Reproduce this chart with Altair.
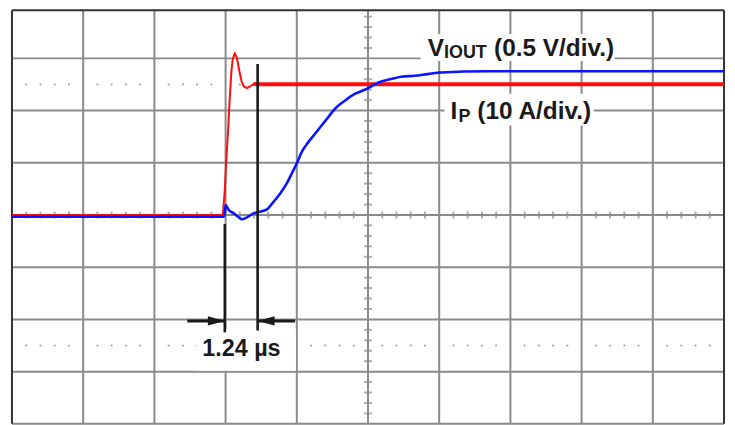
import altair as alt
import pandas as pd

# ---- graticule (divisions) ----
V_GRID = [1, 2, 3, 4, 5, 6, 7, 8, 9]
H_GRID = [-4, -3, -2, -1, 0, 1, 2, 3]
X_BORDER = [0, 10]
Y_TOP = 3.9238
DOT_ROWS = [2.5, -2.5]

# ---- traces (x in time divisions, y in vertical divisions) ----
red_x = [0, 2.961, 2.989, 3.007, 3.035, 3.059, 3.082, 3.101, 3.128, 3.156, 3.174,
         3.198, 3.222, 3.254, 3.300, 3.338, 3.394, 3.464, 10]
red_y = [0, 0, 0.476, 0.990, 1.619, 2.253, 2.762, 2.990, 3.091, 3.029, 2.895,
         2.724, 2.571, 2.467, 2.432, 2.457, 2.509, 2.505, 2.505]

blue_x = [0, 2.975, 2.992, 2.999, 3.045, 3.115, 3.184, 3.230, 3.300, 3.394, 3.464,
          3.580, 3.673, 3.767, 3.859, 3.929, 3.999, 4.068, 4.162, 4.256, 4.348,
          4.441, 4.535, 4.675, 4.814, 4.972, 5.140, 5.325, 5.465, 5.652, 5.838,
          6.024, 6.676, 10]
blue_y = [-0.032, -0.032, 0.05, 0.190, 0.095, 0.032, -0.044, -0.082, -0.044, 0.032, 0.057,
          0.109, 0.253, 0.413, 0.604, 0.794, 0.985, 1.206, 1.396, 1.556, 1.714,
          1.872, 2.032, 2.190, 2.318, 2.410, 2.533, 2.604, 2.648, 2.667, 2.699,
          2.730, 2.752, 2.752]

# ---- annotation: cursors and arrows ----
cursor_x = [2.989, 3.450]
cursor_top = [-0.171, 2.890]
cursor_bottom = [-2.248, -2.210]
arrow_y = -2.029
arrow_from = [2.462, 3.976]
arrow_to = [2.989, 3.450]
arrow_dir = ["right", "left"]

# ---- labels ----
box_x1 = [5.740, 6.075, 2.598]
box_x2 = [8.464, 8.170, 3.987]
box_y1 = [3.467, 2.324, -2.190]
box_y2 = [2.952, 1.714, -2.981]

label_text = ["V", "IOUT", "(0.5 V/div.)", "I", "P", "(10 A/div.)"]
label_x = [5.838, 6.068, 6.770, 6.159, 6.272, 6.536]
label_y = [3.048, 3.000, 3.048, 1.842, 1.777, 1.842]
label_size = [24.5, 18, 24.5, 24.5, 18, 24.5]

meas_text = ["1.24 µs"]
meas_x = [3.222]
meas_y = [-2.710]

GRID = "#8a8a8a"
INK = "#1a1a1a"
FONT = "Liberation Sans"

XS = alt.Scale(domain=[0, 10], nice=False, zero=False)
YS = alt.Scale(domain=[-4, Y_TOP], nice=False, zero=False)


def X(f):
    return alt.X(f, type="quantitative", scale=XS, axis=None)


def Y(f):
    return alt.Y(f, type="quantitative", scale=YS, axis=None)


vgrid = alt.Chart(pd.DataFrame({"x": V_GRID})).mark_rule(color=GRID, strokeWidth=2).encode(x=X("x"))
hgrid = alt.Chart(pd.DataFrame({"y": H_GRID})).mark_rule(color=GRID, strokeWidth=2).encode(y=Y("y"))

ticks_h = pd.DataFrame({"x": [k / 5 for k in range(1, 50) if k % 5], "y": 0.0})
ticks_v = pd.DataFrame({"y": [k / 5 for k in range(-20, 20) if k % 5], "x": 5.0})
tick_x = alt.Chart(ticks_h).mark_tick(orient="vertical", size=7, thickness=2, color=GRID).encode(x=X("x"), y=Y("y"))
tick_y = alt.Chart(ticks_v).mark_tick(orient="horizontal", size=8, thickness=2, color=GRID).encode(x=X("x"), y=Y("y"))

dots_df = pd.DataFrame([{"x": k / 5, "y": r} for r in DOT_ROWS for k in range(1, 50) if k % 5])
dots = alt.Chart(dots_df).mark_square(size=3, color="#999999", opacity=1, filled=True).encode(x=X("x"), y=Y("y"))

bx = alt.Chart(pd.DataFrame({"x": X_BORDER})).mark_rule(color="#333333", strokeWidth=2).encode(x=X("x"))
by = alt.Chart(pd.DataFrame({"y": [Y_TOP]})).mark_rule(color="#333333", strokeWidth=2).encode(y=Y("y"))

boxes = alt.Chart(pd.DataFrame({"x": box_x1, "x2": box_x2, "y": box_y1, "y2": box_y2})).mark_rect(
    color="white", opacity=1).encode(x=X("x"), x2="x2", y=Y("y"), y2="y2")

red_df = pd.DataFrame({"x": red_x, "y": red_y, "i": range(len(red_x))})
red = alt.Chart(red_df).mark_line(color="#ff0d0d", strokeWidth=2).encode(x=X("x"), y=Y("y"), order="i:Q")
red_flat = alt.Chart(red_df).transform_filter("datum.x >= 3.39").mark_line(
    color="#ff0d0d", strokeWidth=4).encode(x=X("x"), y=Y("y"), order="i:Q")

blue_df = pd.DataFrame({"x": blue_x, "y": blue_y, "i": range(len(blue_x))})
blue = alt.Chart(blue_df).mark_line(color="#0a14ff", strokeWidth=2.6, interpolate="monotone").encode(
    x=X("x"), y=Y("y"), order="i:Q")

cursors = alt.Chart(pd.DataFrame({"x": cursor_x, "y": cursor_top, "y2": cursor_bottom})).mark_rule(
    color=INK, strokeWidth=2.6).encode(x=X("x"), y=Y("y"), y2="y2")

arr_df = pd.DataFrame({"x": arrow_from, "x2": arrow_to, "y": arrow_y, "d": arrow_dir})
shafts = alt.Chart(arr_df).mark_rule(color=INK, strokeWidth=3).encode(x=X("x"), x2="x2", y=Y("y"))
head_r = alt.Chart(arr_df).transform_filter("datum.d == 'right'").mark_point(
    shape="M0,0L-2,-0.55L-2,0.55Z", size=289, filled=True, color=INK, opacity=1).encode(x=X("x2"), y=Y("y"))
head_l = alt.Chart(arr_df).transform_filter("datum.d == 'left'").mark_point(
    shape="M0,0L2,-0.55L2,0.55Z", size=289, filled=True, color=INK, opacity=1).encode(x=X("x2"), y=Y("y"))

labels = alt.Chart(pd.DataFrame({"t": label_text, "x": label_x, "y": label_y, "s": label_size})).mark_text(
    align="left", baseline="alphabetic", font=FONT, fontWeight="bold", color=INK).encode(
    x=X("x"), y=Y("y"), text="t:N", size=alt.Size("s:Q", scale=None, legend=None))

meas = alt.Chart(pd.DataFrame({"t": meas_text, "x": meas_x, "y": meas_y})).mark_text(
    align="center", baseline="alphabetic", font=FONT, fontWeight="bold", fontSize=23.5, color=INK).encode(
    x=X("x"), y=Y("y"), text="t:N")

chart = alt.layer(
    vgrid, hgrid, tick_x, tick_y, dots, bx, by, boxes,
    red, red_flat, blue, cursors, shafts, head_r, head_l, labels, meas
).properties(
    width=716, height=416,
    padding={"left": 4, "top": 1, "right": 3, "bottom": 0},
    autosize=alt.AutoSizeParams(type="none"),
    background="white",
).configure_view(stroke=None)

chart.save("out.html", embed_options={"renderer": "svg", "actions": False})
